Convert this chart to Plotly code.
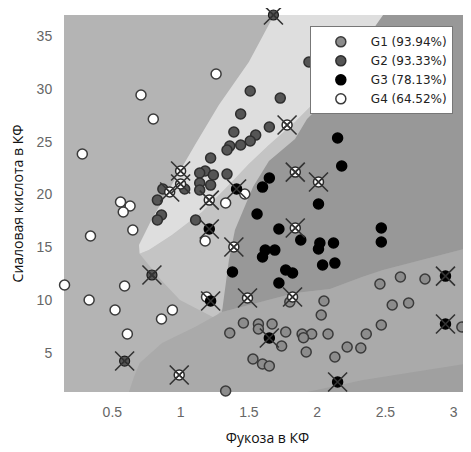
import plotly.graph_objects as go

# ---------------- data ----------------
g1_x = [1.36, 1.46, 1.57, 1.67, 1.57, 1.77, 1.89, 1.96, 2.08, 1.90, 1.74, 1.92, 1.53, 1.60, 1.65,
        2.13, 2.22, 2.32, 2.36, 2.47, 2.55, 2.67, 2.46, 2.61, 2.79, 3.06, 3.14, 2.05, 2.03, 1.80, 1.33]
g1_y = [6.89, 7.84, 7.74, 7.74, 7.27, 6.99, 6.80, 6.80, 6.80, 6.45, 5.66, 5.09, 4.43, 3.96, 3.77,
        4.62, 5.57, 5.47, 6.80, 7.65, 9.54, 9.73, 11.53, 12.19, 12.00, 7.46, 11.43, 9.92, 8.60, 9.83, 1.40]

g2_x = [1.94, 1.51, 1.73, 1.44, 1.39, 1.55, 1.65, 1.51, 1.44, 1.36, 1.34, 1.22, 1.34, 1.18, 1.14,
        1.24, 1.14, 1.22, 1.14, 1.03, 0.87, 0.83, 0.86, 0.83, 1.11]
g2_y = [32.53, 29.79, 29.12, 27.61, 25.91, 25.62, 26.38, 25.06, 24.68, 24.58, 24.21, 23.45, 21.93, 22.22, 22.03,
        21.84, 21.08, 20.89, 20.42, 20.52, 20.52, 19.47, 18.06, 17.58, 17.58]

g3_x = [2.15, 2.18, 1.65, 1.60, 2.01, 1.56, 1.72, 1.88, 1.62, 1.69, 1.60, 2.02, 2.12, 2.01, 2.04,
        2.13, 2.47, 2.47, 1.38, 1.77, 1.82, 1.72]
g3_y = [25.34, 22.69, 21.56, 20.70, 19.10, 18.15, 16.73, 15.69, 14.74, 14.74, 14.08, 15.41, 15.41, 14.84, 13.33,
        13.51, 16.83, 15.50, 12.66, 12.85, 12.57, 11.62]

g4_x = [1.26, 0.71, 0.80, 0.28, 0.56, 0.63, 0.58, 0.65, 0.34, 1.33, 1.47, 1.18, 0.15, 0.59, 0.33,
        0.52, 0.94, 0.86, 0.61, 1.19]
g4_y = [31.40, 29.41, 27.14, 23.83, 19.29, 18.91, 18.34, 16.64, 16.07, 19.19, 20.04, 15.60, 11.43, 11.34, 10.01,
        9.07, 9.07, 8.22, 6.80, 10.30]

# misclassified observations (crossed)
mis_open_x = [1.00, 1.00, 0.92, 1.21, 1.78, 1.84, 2.01, 1.84, 1.39, 1.49, 0.99, 1.82]
mis_open_y = [22.22, 20.99, 20.23, 19.47, 26.57, 22.12, 21.18, 16.83, 15.03, 10.20, 2.92, 10.30]
mis_g2_x = [1.68, 0.79, 0.59]
mis_g2_y = [36.98, 12.38, 4.24]
mis_g3_x = [1.41, 1.21, 1.22, 1.65, 2.15, 2.94, 2.94]
mis_g3_y = [20.52, 16.73, 9.92, 6.42, 2.26, 12.28, 7.74]

legend_names = ["G1 (93.94%)", "G2 (93.33%)", "G3 (78.13%)", "G4 (64.52%)"]

x_ticks = [0.5, 1, 1.5, 2, 2.5, 3]
y_ticks = [5, 10, 15, 20, 25, 30, 35]

# classification regions (boundary vertices, data units)
band_x = [1.962, 1.838, 1.647, 1.50, 1.354, 1.157, 0.937, 0.768, 0.70, 0.85, 0.995, 1.25, 1.70, 2.10]
band_y = [28.46, 26.85, 24.68, 22.88, 20.89, 18.34, 16.16, 14.74, 14.40, 12.0, 10.01, 8.3, 15.0, 29.0]

ell_x = [1.74, 1.684, 1.50, 1.28, 1.105, 0.937, 0.79, 0.695, 0.70, 0.768, 0.937, 1.157, 1.354, 1.50,
         1.647, 1.838, 1.962, 2.05, 2.60]
ell_y = [38.4, 36.98, 32.53, 28.46, 24.68, 20.89, 17.68, 15.22, 14.40, 14.74, 16.16, 18.34, 20.89, 22.88,
         24.68, 26.85, 28.46, 28.5, 38.4]

low_x = [0.59, 0.622, 0.658, 0.70, 0.864, 1.105, 1.303, 1.55, 1.838, 2.094, 2.329, 2.483, 3.127, 3.3, 3.3]
low_y = [0.5, 1.31, 2.73, 4.05, 5.95, 7.46, 8.88, 9.7, 10.68, 11.05, 12.19, 12.85, 15.03, 15.6, 0.5]

dark_x = [2.556, 2.483, 1.999, 1.926, 1.838, 1.728, 1.647, 1.530, 1.428, 1.398, 1.354, 1.325, 1.303,
          1.55, 1.838, 2.094, 2.329, 2.483, 3.127, 3.3, 3.3]
dark_y = [38.4, 36.98, 28.08, 27.14, 25.25, 24.02, 23.16, 20.70, 17.68, 16.64, 13.80, 10.96, 8.88,
          9.7, 10.68, 11.05, 12.19, 12.85, 15.03, 15.6, 38.4]

corner_x = [1.80, 1.926, 2.336, 3.127, 3.3, 3.3]
corner_y = [0.5, 1.31, 2.45, 4.05, 4.4, 0.5]

# ---------------- figure ----------------
fig = go.Figure()

def region(xs, ys, color):
    fig.add_trace(go.Scatter(x=xs, y=ys, mode="lines", fill="toself", fillcolor=color,
                             line=dict(width=0, color=color), hoverinfo="skip", showlegend=False))

region(band_x, band_y, "#c4c4c4")
region(ell_x, ell_y, "#dedede")
region(low_x, low_y, "#aaaaaa")
region(dark_x, dark_y, "#989898")
region(corner_x, corner_y, "#a0a0a0")

edge = "#3a3a3a"
groups = [
    (g1_x, g1_y, "#8c8c8c", edge),
    (g2_x, g2_y, "#555555", "#2e2e2e"),
    (g3_x, g3_y, "#000000", "#000000"),
    (g4_x, g4_y, "#ffffff", edge),
]
for (xs, ys, fc, lc), name in zip(groups, legend_names):
    fig.add_trace(go.Scatter(x=xs, y=ys, mode="markers", name=name, cliponaxis=False,
                             marker=dict(symbol="circle", size=10, color=fc,
                                         line=dict(color=lc, width=1.5))))

# misclassified points
fig.add_trace(go.Scatter(x=mis_g2_x, y=mis_g2_y, mode="markers", showlegend=False, cliponaxis=False,
                         marker=dict(symbol="circle-x", size=10, color="#555555",
                                     line=dict(color="#1a1a1a", width=1.2))))
fig.add_trace(go.Scatter(x=mis_g3_x, y=mis_g3_y, mode="markers", showlegend=False, cliponaxis=False,
                         marker=dict(symbol="circle", size=10, color="#000000",
                                     line=dict(color="#000000", width=1.5))))
fig.add_trace(go.Scatter(x=mis_open_x, y=mis_open_y, mode="markers", showlegend=False, cliponaxis=False,
                         marker=dict(symbol="circle-x", size=10, color="#ffffff",
                                     line=dict(color="#2a2a2a", width=1.5))))
all_mx = mis_open_x + mis_g2_x + mis_g3_x
all_my = mis_open_y + mis_g2_y + mis_g3_y
fig.add_trace(go.Scatter(x=all_mx, y=all_my, mode="markers", showlegend=False, cliponaxis=False,
                         marker=dict(symbol="x-thin-open", size=19, color="#333333",
                                     line=dict(color="#333333", width=1.6))))

tick_font = dict(family="Liberation Sans, Arial, sans-serif", size=14, color="#666666")
title_font = dict(family="Open Sans, sans-serif", size=14, color="#111111")

# the page body adds an 8 px offset, so the figure is sized to end at the window edge
fig.update_layout(
    width=463, height=444,
    margin=dict(l=56, r=0, t=7, b=60),
    paper_bgcolor="white",
    plot_bgcolor="#b4b4b4",
    showlegend=True,
    legend=dict(x=0.604, y=0.97, xanchor="left", yanchor="top",
                bgcolor="white", bordercolor="#777777", borderwidth=1,
                font=dict(family="DejaVu Sans, sans-serif", size=12, color="#222222"),
                itemwidth=50, tracegroupgap=0),
    xaxis=dict(range=[0.146, 3.127], tickvals=x_ticks, ticktext=["0.5", "1", "1.5", "2", "2.5", "3"],
               showgrid=False, zeroline=False, showline=False, automargin=False,
               ticks="outside", ticklen=7, tickcolor="rgba(0,0,0,0)", tickfont=tick_font,
               title=dict(text="Фукоза в КФ", font=title_font, standoff=14)),
    yaxis=dict(range=[1.31, 36.98], tickvals=y_ticks, automargin=False,
               showgrid=False, zeroline=False, showline=False,
               ticks="outside", ticklen=8, tickcolor="rgba(0,0,0,0)", tickfont=tick_font,
               title=dict(text="Сиаловая кислота в КФ", font=title_font, standoff=12)),
)

fig.write_html("out.html")
